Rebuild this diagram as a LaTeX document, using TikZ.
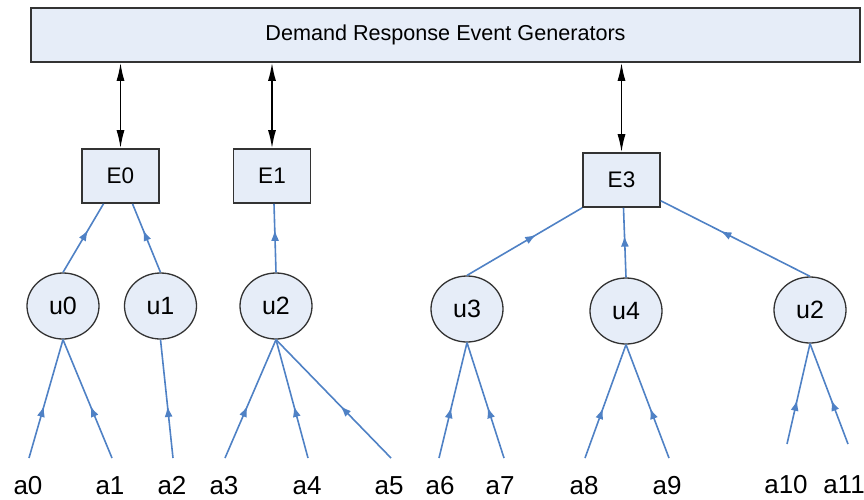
\documentclass[tikz,border=0pt]{standalone}
\usepackage{fontspec}
\setmainfont{Liberation Sans}
\usetikzlibrary{arrows.meta,decorations.markings,shapes.geometric}
\definecolor{boxfill}{RGB}{230,237,248}
\definecolor{linkblue}{RGB}{79,129,197}

\begin{document}
\begin{tikzpicture}[x=1pt,y=-1pt,
  genbox/.style={draw=black!80, line width=1.6pt, fill=boxfill, rectangle, inner sep=0pt,
    minimum width=829pt, minimum height=54pt, font=\fontsize{21.6}{24}\selectfont},
  evbox/.style={draw=black!80, line width=1.6pt, fill=boxfill, rectangle, inner sep=0pt,
    minimum width=77pt, minimum height=54pt, font=\fontsize{22.5}{25}\selectfont},
  user/.style={draw=black!80, line width=1.3pt, fill=boxfill, ellipse, inner sep=0pt,
    minimum width=72pt, minimum height=66pt, font=\fontsize{25}{28}\selectfont},
  lbl/.style={inner sep=0pt, font=\fontsize{26}{28}\selectfont},
  dbl/.style={draw=black, line width=1.5pt, {Latex[length=18pt,width=8pt]}-{Latex[length=18pt,width=8pt]}},
  link/.style={draw=linkblue, line width=1.6pt, postaction={decorate},
    decoration={markings, mark=at position #1 with {\arrow{Latex[length=11pt,width=8pt,color=linkblue]}}}}]
\useasboundingbox (0,0) rectangle (864,499);

\node[genbox] (gen) at (445.5,35) {Demand Response Event Generators};

\node[evbox] (E0) at (120.5,176) {E0};
\node[evbox] (E1) at (272,176) {E1};
\node[evbox] (E3) at (621.5,180) {E3};
\path[dbl] (gen.south -| E0) -- (E0);
\path[dbl] (gen.south -| E1) -- (E1);
\path[dbl] (gen.south -| E3) -- (E3);

\node[user] (u0) at (63,306) {u0};
\node[user] (u1) at (160.5,306) {u1};
\node[user] (u2) at (276,306) {u2};
\node[user] (u3) at (467,309) {u3};
\node[user] (u4) at (626,311) {u4};
\node[user] (u5) at (810,310) {u2};

\path[link=0.62] (u0.north) -- ([xshift=-17pt]E0.south);
\path[link=0.62] (u1.north) -- ([xshift=12pt]E0.south);
\path[link=0.62] (u2.north) -- ([xshift=2pt]E1.south);
\path[link=0.60] (u3.north) -- (E3.south west);
\path[link=0.60] (u4.north) -- ([xshift=2pt]E3.south);
\path[link=0.60] (u5.north) -- ([yshift=7pt]E3.south east);

% actions
\coordinate (p0) at (29,458);
\coordinate (p1) at (112,458);
\coordinate (p2) at (173,458);
\coordinate (p3) at (225,458);
\coordinate (p4) at (308,458);
\coordinate (p5) at (391,458);
\coordinate (p6) at (439,458);
\coordinate (p7) at (504,458);
\coordinate (p8) at (585,458);
\coordinate (p9) at (669,458);
\coordinate (p10) at (787,444);
\coordinate (p11) at (848,444);

\path[link=0.44] (p0) -- (u0.south);
\path[link=0.44] (p1) -- (u0.south);
\path[link=0.44] (p2) -- (u1.south);
\path[link=0.44] (p3) -- (u2.south);
\path[link=0.44] (p4) -- (u2.south);
\path[link=0.44] (p5) -- (u2.south);
\path[link=0.44] (p6) -- (u3.south);
\path[link=0.44] (p7) -- (u3.south);
\path[link=0.44] (p8) -- (u4.south);
\path[link=0.44] (p9) -- (u4.south);
\path[link=0.44] (p10) -- (u5.south);
\path[link=0.44] (p11) -- (u5.south);

\node[lbl] (a0) at (28,486) {a0};
\node[lbl] (a1) at (110,486) {a1};
\node[lbl] (a2) at (172,486) {a2};
\node[lbl] (a3) at (224,486) {a3};
\node[lbl] (a4) at (307,486) {a4};
\node[lbl] (a5) at (389,486) {a5};
\node[lbl] (a6) at (440,486) {a6};
\node[lbl] (a7) at (500,486) {a7};
\node[lbl] (a8) at (584,486) {a8};
\node[lbl] (a9) at (667,486) {a9};
\node[lbl] (a10) at (786,485) {a10};
\node[lbl] (a11) at (844,485) {a11};
\end{tikzpicture}
\end{document}
